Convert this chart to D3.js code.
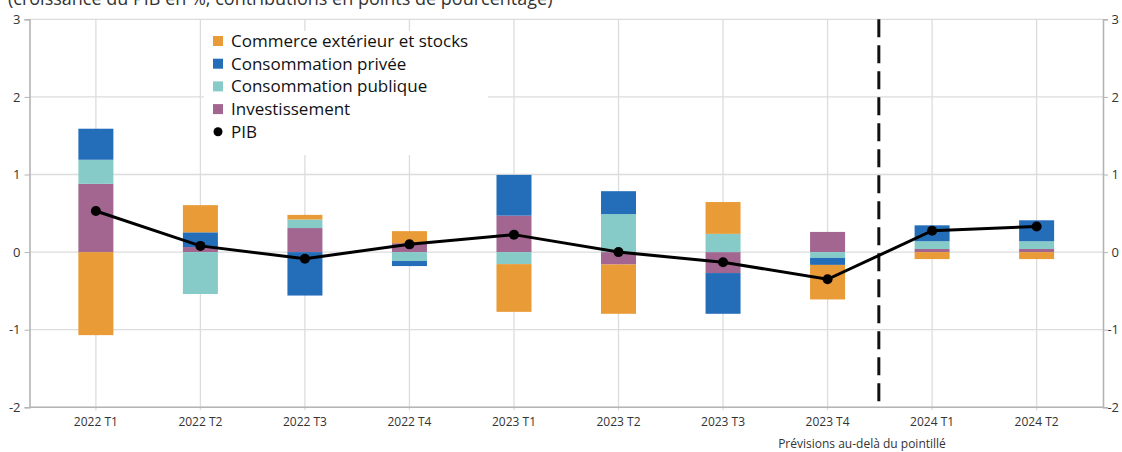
<!DOCTYPE html>
<html><head><meta charset="utf-8">
<script src="https://cdn.jsdelivr.net/npm/d3@7"></script>
<style>
html,body{margin:0;padding:0;background:#fff;}
svg{display:block;font-family:"Open Sans","Noto Sans",sans-serif;}
</style></head>
<body><svg id="c" width="1122" height="452"></svg>
<script>
const categories = ["2022 T1","2022 T2","2022 T3","2022 T4","2023 T1","2023 T2","2023 T3","2023 T4","2024 T1","2024 T2"];
const commerce      = [-1.07, 0.35, 0.06, 0.155, -0.615, -0.635, 0.41, -0.445, -0.09, -0.09];
const consoPrivee   = [0.40, 0.19, -0.56, -0.065, 0.525, 0.295, -0.525, -0.09, 0.205, 0.27];
const consoPublique = [0.31, -0.54, 0.11, -0.115, -0.155, 0.49, 0.235, -0.075, 0.10, 0.10];
const investissement= [0.88, 0.065, 0.31, 0.115, 0.47, -0.16, -0.27, 0.26, 0.04, 0.04];
const pib           = [0.53, 0.08, -0.085, 0.10, 0.225, 0.0, -0.13, -0.35, 0.275, 0.33];
const yTicks = [-2,-1,0,1,2,3];
const seriesNames = ["Commerce extérieur et stocks","Consommation privée","Consommation publique","Investissement"];
const colors = {"Commerce extérieur et stocks":"#E89B37","Consommation privée":"#246EB9","Consommation publique":"#86CBC8","Investissement":"#A26691"};
const forecastStart = "2024 T1";
const subtitle = "(croissance du PIB en %, contributions en points de pourcentage)";
const note = "Prévisions au-delà du pointillé";

const svg = d3.select("#c");
const L = 29.5, R = 1103, T = 19.3, B = 407.3;
const x = d3.scaleBand().domain(categories).range([L, R]).paddingInner(0).paddingOuter(0.135);
const y = d3.scaleLinear().domain([-2,3]).range([B, T]);
const cx = c => x(c) + x.bandwidth()/2;
const barW = 35;
const fmt = d => String(d);

// subtitle (cut off at top, as in the reference)
svg.append("text").attr("x", 8).attr("y", 4.5).attr("font-size", 18).attr("fill", "#333").text(subtitle);

// gridlines
svg.append("g").selectAll("line").data(yTicks).join("line")
  .attr("x1", L).attr("x2", R).attr("y1", d => y(d)).attr("y2", d => y(d))
  .attr("stroke", "#dcdcdc").attr("stroke-width", 1.3);
svg.append("g").selectAll("line").data(categories).join("line")
  .attr("x1", d => cx(d)).attr("x2", d => cx(d)).attr("y1", T).attr("y2", B + 3)
  .attr("stroke", "#dcdcdc").attr("stroke-width", 1.3);

// legend background (hides grid)
const legend = svg.append("g");
legend.append("rect").attr("x", 204).attr("y", 31).attr("width", 284).attr("height", 124).attr("fill", "#fff");

// stacked bars
const rows = categories.map((c,i) => ({cat:c,
  "Investissement": investissement[i], "Consommation publique": consoPublique[i],
  "Consommation privée": consoPrivee[i], "Commerce extérieur et stocks": commerce[i]}));
const stackKeys = ["Investissement","Consommation publique","Consommation privée","Commerce extérieur et stocks"];
const stacked = d3.stack().keys(stackKeys).offset(d3.stackOffsetDiverging)(rows);
svg.append("g").selectAll("g").data(stacked).join("g")
  .attr("fill", s => colors[s.key])
  .selectAll("rect").data(s => s).join("rect")
  .attr("x", d => cx(d.data.cat) - barW/2).attr("width", barW)
  .attr("y", d => y(Math.max(d[0], d[1])))
  .attr("height", d => Math.abs(y(d[0]) - y(d[1])));

// axes
const axisColor = "#b4b4b4";
const gl = svg.append("g").attr("transform", `translate(${L},0)`)
  .call(d3.axisLeft(y).tickValues(yTicks).tickSize(5).tickPadding(4).tickFormat(fmt));
const gr = svg.append("g").attr("transform", `translate(${R},0)`)
  .call(d3.axisRight(y).tickValues(yTicks).tickSize(5).tickPadding(4).tickFormat(fmt));
const gb = svg.append("g").attr("transform", `translate(0,${B})`)
  .call(d3.axisBottom(x).tickSize(0).tickPadding(10));
[gl, gr, gb].forEach(g => {
  g.selectAll("path").attr("stroke", axisColor).attr("stroke-width", 1.6);
  g.selectAll("line").attr("stroke", axisColor);
  g.selectAll("text").attr("fill", "#333").attr("font-family", "Open Sans, Noto Sans, sans-serif");
});
gl.selectAll("text").attr("font-size", 13);
gr.selectAll("text").attr("font-size", 13).attr("text-anchor", "end").attr("x", 16);
gb.selectAll("text").attr("font-size", 12);
gb.select("path").attr("d", `M${L},0H${R}`);

// forecast dashed line
const fx = (cx(forecastStart) + cx(categories[categories.indexOf(forecastStart)-1])) / 2 - 1;
svg.append("line").attr("x1", fx).attr("x2", fx).attr("y1", T).attr("y2", B)
  .attr("stroke", "#111").attr("stroke-width", 3).attr("stroke-dasharray", "18,8");

// PIB line & dots
const line = d3.line().x((d,i) => cx(categories[i])).y(d => y(d));
svg.append("path").datum(pib).attr("d", line).attr("fill", "none").attr("stroke", "#000").attr("stroke-width", 3);
svg.append("g").selectAll("circle").data(pib).join("circle")
  .attr("cx", (d,i) => cx(categories[i])).attr("cy", d => y(d)).attr("r", 5).attr("fill", "#000");

// legend items
const ly0 = 41, lstep = 22.7;
seriesNames.forEach((n,i) => {
  legend.append("rect").attr("x", 213).attr("y", ly0 + i*lstep - 5).attr("width", 10).attr("height", 10).attr("fill", colors[n]);
  legend.append("text").attr("x", 231).attr("y", ly0 + i*lstep).attr("dy", "0.35em")
    .attr("font-size", 17).attr("fill", "#111").text(n);
});
legend.append("circle").attr("cx", 218).attr("cy", ly0 + 4*lstep).attr("r", 4.5).attr("fill", "#000");
legend.append("text").attr("x", 231).attr("y", ly0 + 4*lstep).attr("dy", "0.35em")
  .attr("font-size", 17).attr("fill", "#111").text("PIB");

// note
svg.append("text").attr("x", 862).attr("y", 448).attr("text-anchor", "middle")
  .attr("font-size", 12).attr("fill", "#333").text(note);
</script></body></html>
